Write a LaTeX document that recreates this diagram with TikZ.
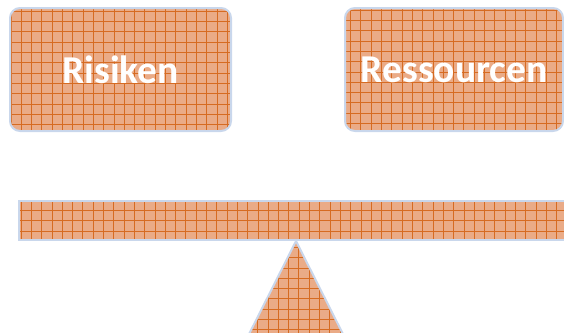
\documentclass[tikz,border=0pt]{standalone}
\usepackage{fontspec}
\setmainfont{Carlito}
\definecolor{basefill}{HTML}{EAAB87}
\definecolor{gridline}{HTML}{D66B22}
\definecolor{edge}{HTML}{C9D7EC}
\tikzset{
  gridfill/.style={fill=basefill, draw=edge, line width=2pt,
    path picture={\draw[gridline, line width=0.6pt, step=10.3pt]
      ([shift={(-12pt,-12pt)}]path picture bounding box.south west) grid
      ([shift={(12pt,12pt)}]path picture bounding box.north east);}},
  labelbox/.style={gridfill, rounded corners=10pt, text=white, font=\bfseries\fontsize{39.5}{41}\selectfont, inner sep=0pt},
}
\begin{document}
\begin{tikzpicture}[x=1pt,y=-1pt]
\useasboundingbox (0,0) rectangle (564,332);
\clip (0,0) rectangle (564,332);
\node[labelbox, minimum width=221pt, minimum height=123pt] (risiken) at (120.5,69.5) {Risiken};
\node[labelbox, minimum width=218pt, minimum height=123pt] (ressourcen) at (454,69.5) {Ressourcen};
\node[gridfill, minimum width=560pt, minimum height=39pt, inner sep=0pt] (bar) at (299,220.5) {};
\coordinate (apex) at (296,241);
\draw[gridfill] (apex) -- (351,350) -- (241,350) -- cycle;
\end{tikzpicture}
\end{document}
